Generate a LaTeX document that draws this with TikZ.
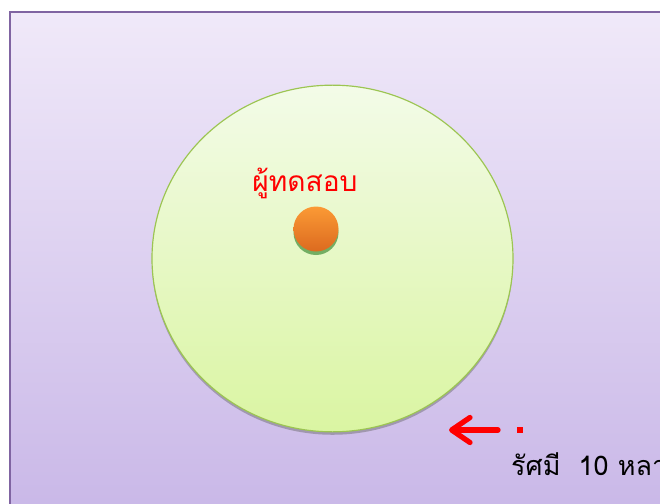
\documentclass[tikz,border=0pt]{standalone}
\usepackage{fontspec}
\usepackage{xcolor}
\usepackage{tikz}
\usetikzlibrary{shapes.geometric,arrows.meta,positioning,shadows}
\newfontfamily\thaifont[Script=Thai]{Loma}
\definecolor{frameviolet}{HTML}{8064A2}
\definecolor{bgtop}{HTML}{F0E9F9}
\definecolor{bgbot}{HTML}{C8B6E7}
\definecolor{zonetop}{HTML}{F3FBE8}
\definecolor{zonebot}{HTML}{DAF5A2}
\definecolor{zoneline}{HTML}{9CC552}
\definecolor{dottop}{HTML}{FB9A35}
\definecolor{dotbot}{HTML}{DC6A1F}

\begin{document}
\begin{tikzpicture}[
  x=0.03cm, y=-0.03cm,
  font=\thaifont,
  frame/.style={draw=frameviolet, line width=2pt, top color=bgtop, bottom color=bgbot},
  zone/.style={ellipse, draw=zoneline, line width=1pt, top color=zonetop, bottom color=zonebot,
    inner sep=0pt,
    drop shadow={shadow xshift=0pt, shadow yshift=-2.5pt, opacity=.45, fill=black!60}},
  tester/.style={circle, inner sep=0pt, minimum size=1.35cm, top color=dottop, bottom color=dotbot,
    drop shadow={shadow xshift=0pt, shadow yshift=-3pt, opacity=.5, fill=black!60!green}},
  redarr/.style={-{Straight Barb[round, length=5.5mm, width=7.5mm]}, red, line width=4.5pt, line cap=round},
  lab/.style={font=\thaifont\fontsize{24}{28}\selectfont, inner sep=0pt}
]
\useasboundingbox (0,0) rectangle (660,504);
\path[frame] (10,12) rectangle (690,530);
\node[zone, minimum width=10.83cm, minimum height=10.4cm] (zone) at (332.5,258.5) {};
\node[tester] (tester) at (316,229) {};
\node[lab, text=red] (name) at (305,183) {ผู้ทดสอบ};
\coordinate (arrstart) at (498,430);
\coordinate (arrend) at (449,430);
\draw[redarr] (arrstart) -- (arrend);
\node[fill=red, minimum size=0.16cm, inner sep=0pt] (mark) at (520,430) {};
\node[lab, anchor=base west, font=\thaifont\fontsize{23}{27}\selectfont] (radius) at (511,475) {รัศมี\ \ 10 หลา};
\end{tikzpicture}
\end{document}
